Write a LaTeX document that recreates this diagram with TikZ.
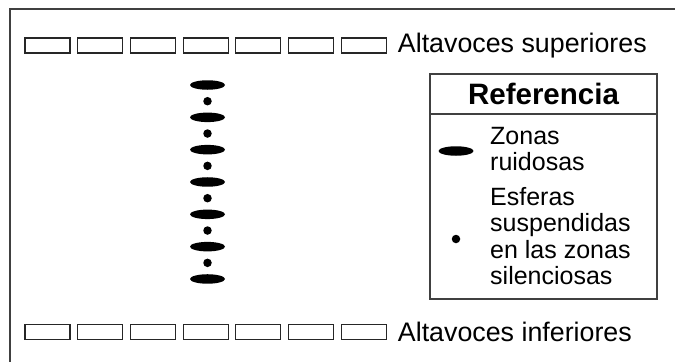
\documentclass[tikz,border=0pt]{standalone}
\usepackage{fontspec}
\setmainfont{Liberation Sans}
\usetikzlibrary{positioning,shapes.geometric}

\definecolor{marco}{HTML}{404040}

\tikzset{
    altavoz/.style={draw=black!85, line width=1.1pt, minimum width=45pt,
        minimum height=15pt, inner sep=0pt},
    ruido/.style={ellipse, fill=black, minimum width=35pt,
        minimum height=9.5pt, inner sep=0pt},
    esfera/.style={circle, fill=black, minimum size=8.5pt, inner sep=0pt},
    rotulo/.style={anchor=west, inner sep=0pt, font=\fontsize{26.8}{30}\selectfont},
    leyenda/.style={anchor=west, inner sep=0pt, align=left,
        font=\fontsize{25}{26.5}\selectfont}
}

\begin{document}
\begin{tikzpicture}[x=1pt,y=-1pt]
        \useasboundingbox (0,0) rectangle (675,362);

        % marco exterior
        \draw[marco, line width=1.3pt] (675,9) -- (10,9) -- (10,362);

        % filas de altavoces
        \foreach \i in {1,...,7} {
            \node[altavoz] (sup\i) at ({47.5+52.7*(\i-1)},45.5) {};
            \node[altavoz] (inf\i) at ({47.5+52.7*(\i-1)},332) {};
        }
        \node[rotulo, right=11pt of sup7] (lsup) {Altavoces superiores};
        \node[rotulo, right=11pt of inf7] (linf) {Altavoces inferiores};

        % columna de zonas
        \foreach \i in {0,...,6} {
            \node[ruido] (z\i) at (207.5,{85+32.33*\i}) {};
        }
        \foreach \i in {0,...,5} {
            \node[esfera] (e\i) at (207.5,{101.2+32.33*\i}) {};
        }

        % referencia
        \draw[marco, line width=1.3pt]
            (430,74) rectangle (657,299)
            (430,114) -- (657,114);
        \node[font=\bfseries\fontsize{29.5}{32}\selectfont] (titulo) at (543.5,94) {Referencia};
        \node[ruido] (lz) at (456,151) {};
        \node[esfera] (le) at (456,239) {};
        \node[leyenda] (tz) at (490,149) {Zonas\\ruidosas};
        \node[leyenda] (te) at (490,236) {Esferas\\suspendidas\\en las zonas\\silenciosas};

    \end{tikzpicture}
\end{document}
